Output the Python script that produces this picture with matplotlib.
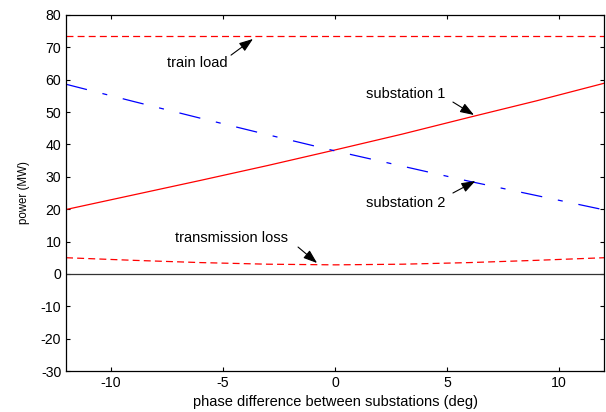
import matplotlib
matplotlib.use("Agg")
import matplotlib.pyplot as plt
import numpy as np

plt.rcParams['font.family'] = ['Liberation Sans', 'DejaVu Sans']
plt.rcParams['lines.scale_dashes'] = False
plt.rcParams['axes.unicode_minus'] = False

phase = [-12, -9, -6, -3, 0, 3, 6, 9, 12]
train_load = [73.5, 73.5, 73.5, 73.5, 73.5, 73.5, 73.5, 73.5, 73.5]
substation1 = [19.9, 24.4, 28.9, 33.5, 38.3, 43.2, 48.4, 53.5, 58.9]
substation2 = [58.6, 53.3, 48.1, 43.0, 38.0, 33.3, 28.6, 24.2, 19.8]
trans_loss = [5.0, 4.2, 3.5, 3.0, 2.8, 3.0, 3.5, 4.2, 5.0]

fig = plt.figure(figsize=(6.06, 4.12), dpi=100)
ax = fig.add_axes([0.109, 0.0995, 0.8877, 0.8641])

ax.axhline(0, color='#333333', lw=0.9)
ax.plot(phase, train_load, color='red', lw=0.9, dashes=(5, 3))
ax.plot(phase, substation1, color='red', lw=0.9)
ax.plot(phase, substation2, color='blue', lw=0.9, dashes=(15.5, 11.5, 3.6, 11.5))
ax.plot(phase, trans_loss, color='red', lw=0.9, dashes=(5, 3))

ax.set_xlim(-12, 12)
ax.set_ylim(-30, 80)
ax.set_xticks([-10, -5, 0, 5, 10])
ax.set_yticks(np.arange(-30, 81, 10))
ax.tick_params(direction='in', top=True, right=True, labelsize=10.2, length=3, width=0.8)
for s in ax.spines.values():
    s.set_linewidth(0.9)
ax.set_xlabel('phase difference between substations (deg)', fontsize=10.5, labelpad=4)
ax.set_ylabel('power (MW)', fontsize=8.3, labelpad=8)

ap = dict(arrowstyle='-|>,head_length=0.7,head_width=0.25', color='black', lw=0.8,
          mutation_scale=12, shrinkA=0, shrinkB=0)

labels = [('train load', -6.15, 65.2, (-4.64, 67.6), (-3.66, 72.6)),
          ('substation 1', 3.15, 55.7, (5.26, 53.1), (6.2, 49.1)),
          ('substation 2', 3.15, 21.9, (5.26, 25.0), (6.26, 28.7)),
          ('transmission loss', -4.6, 11.1, (-1.65, 8.3), (-0.8, 3.36))]
for txt, tx, ty, tail, head in labels:
    ax.text(tx, ty, txt, fontsize=10.5, ha='center', va='center')
    ax.annotate('', xy=head, xytext=tail, arrowprops=ap)

fig.savefig('out.png', dpi=100)
